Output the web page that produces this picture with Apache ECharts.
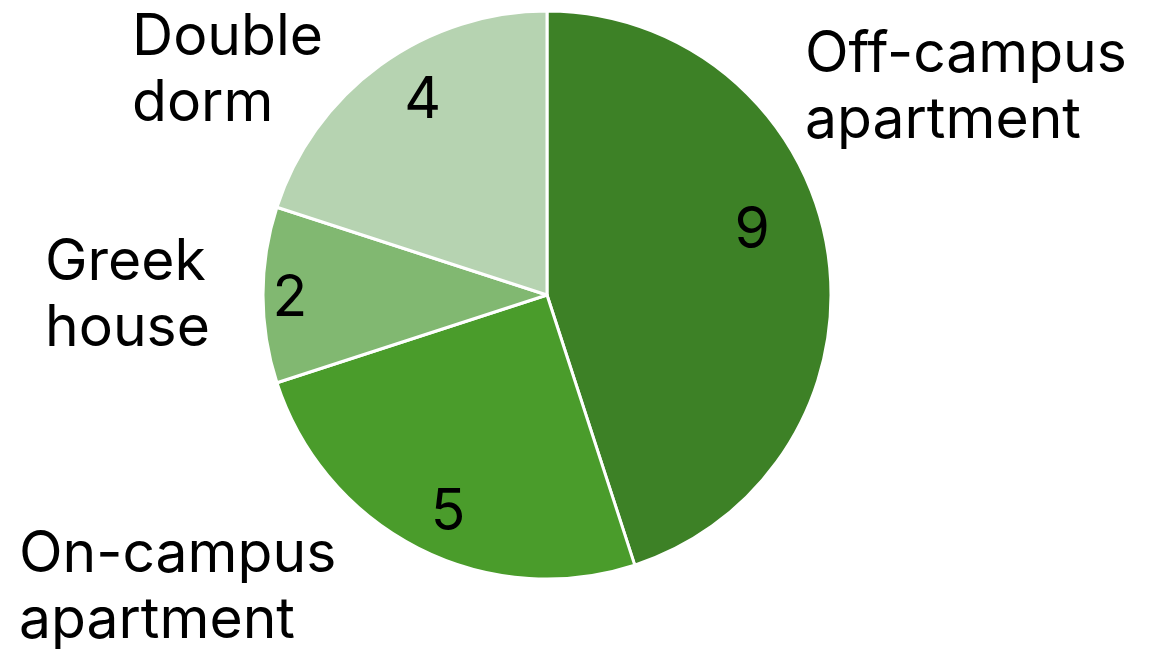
<!DOCTYPE html>
<html>
<head>
<meta charset="utf-8">
<script src="https://cdn.jsdelivr.net/npm/echarts@6/dist/echarts.min.js"></script>
<style>
  html, body { margin: 0; padding: 0; background: #fff; }
  #main { width: 1167px; height: 654px; }
</style>
</head>
<body>
<div id="main"></div>
<script>
var categories = ['Off-campus\napartment', 'On-campus\napartment', 'Greek\nhouse', 'Double\ndorm'];
var counts = [9, 5, 2, 4];
var colors = ['#3d8126', '#4a9c2b', '#81b871', '#b6d3b1'];

// label placement (layout only)
var valueShift = [[62, -41], [-33, 89], [-112, 4], [-39, -77]];
var namePos = [[805, 88], [19, 588], [45, 296], [132, 71]];

var chart = echarts.init(document.getElementById('main'));

var font = 'Inter, "Noto Sans", sans-serif';

var option = {
  backgroundColor: '#ffffff',
  animation: false,
  series: [
    {
      type: 'pie',
      center: [547, 295],
      radius: 284,
      startAngle: 90,
      clockwise: true,
      avoidLabelOverlap: false,
      itemStyle: { borderColor: '#ffffff', borderWidth: 3 },
      label: {
        show: true,
        position: 'inside',
        formatter: '{c}',
        color: '#000',
        fontFamily: font,
        fontSize: 57,
        lineHeight: 57
      },
      labelLine: { show: false },
      labelLayout: function (p) {
        var s = valueShift[p.dataIndex];
        return { dx: s[0], dy: s[1] };
      },
      data: categories.map(function (name, i) {
        return { name: name, value: counts[i], itemStyle: { color: colors[i] } };
      })
    },
    {
      type: 'pie',
      center: [547, 295],
      radius: 284,
      startAngle: 90,
      clockwise: true,
      silent: true,
      avoidLabelOverlap: false,
      itemStyle: { color: 'rgba(0,0,0,0)', borderWidth: 0 },
      label: {
        show: true,
        position: 'outside',
        formatter: '{b}',
        color: '#000',
        fontFamily: font,
        fontSize: 57,
        lineHeight: 66,
        align: 'left'
      },
      labelLine: { show: false },
      labelLayout: function (p) {
        var i = categories.indexOf(p.text);
        if (i < 0) i = p.dataIndex;
        var pos = namePos[i];
        return { x: pos[0], y: pos[1], align: 'left', verticalAlign: 'middle' };
      },
      data: categories.map(function (name, i) {
        return { name: name, value: counts[i] };
      })
    }
  ]
};

chart.setOption(option);
</script>
</body>
</html>
